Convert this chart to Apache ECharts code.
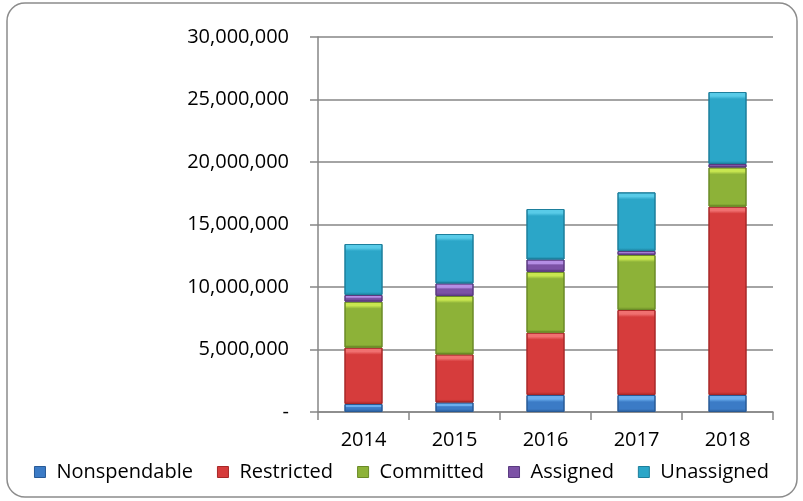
<!DOCTYPE html>
<html>
<head>
<meta charset="utf-8">
<script src="https://cdn.jsdelivr.net/npm/echarts@6/dist/echarts.min.js"></script>
<style>
html,body{margin:0;padding:0;background:#fff;}
#c{width:803px;height:501px;}
</style>
</head>
<body>
<div id="c"></div>
<script>
const years = ['2014', '2015', '2016', '2017', '2018'];
const nonspendable = [640000, 770000, 1360000, 1360000, 1360000];
const restricted = [4510000, 3840000, 4990000, 6800000, 15070000];
const committed = [3680000, 4670000, 4870000, 4400000, 3140000];
const assigned = [530000, 1010000, 980000, 320000, 270000];
const unassigned = [4080000, 3950000, 4040000, 4690000, 5760000];
const yTicks = { min: 0, max: 30000000, interval: 5000000 };

const seriesDefs = [
  { name: 'Nonspendable', data: nonspendable, base: '#3b7bc6', edge: '#285a96', light: '#6aaeee' },
  { name: 'Restricted', data: restricted, base: '#d63c3c', edge: '#a82828', light: '#f07070' },
  { name: 'Committed', data: committed, base: '#8db238', edge: '#6a8a26', light: '#c8e650' },
  { name: 'Assigned', data: assigned, base: '#7c52a6', edge: '#5a3a80', light: '#b48ee4' },
  { name: 'Unassigned', data: unassigned, base: '#2ba6c8', edge: '#1d7f9c', light: '#58cbe8' }
];

const chart = echarts.init(document.getElementById('c'), null, { renderer: 'canvas' });
const font = '"Open Sans", "DejaVu Sans", sans-serif';

function vgrad(d, hpx) {
  const h = Math.max(hpx, 1);
  const a = Math.min(4 / h, 0.35), b = Math.min(7 / h, 0.45), c = Math.max(1 - 3 / h, 0.6);
  return new echarts.graphic.LinearGradient(0, 0, 0, 1, [
    { offset: 0, color: d.light },
    { offset: a, color: d.light },
    { offset: b, color: d.base },
    { offset: c, color: d.base },
    { offset: 1, color: d.edge }
  ]);
}

function buildSeries(pxPerUnit) {
  return seriesDefs.map(d => ({
    name: d.name,
    type: 'bar',
    stack: 'total',
    barWidth: 38,
    data: d.data.map(v => pxPerUnit ? { value: v, itemStyle: { color: vgrad(d, v * pxPerUnit) } } : v),
    itemStyle: { color: d.base, borderColor: d.edge, borderWidth: 1 }
  }));
}

chart.setOption({
  animation: false,
  backgroundColor: '#ffffff',
  graphic: [{
    type: 'rect',
    shape: { x: 7, y: 3, width: 790, height: 494, r: 18 },
    style: { fill: 'none', stroke: '#8c8c8c', lineWidth: 1.5 },
    z: -1
  }],
  grid: { left: 318, right: 30, top: 37, bottom: 89, containLabel: false },
  legend: {
    bottom: 14,
    left: 'center',
    itemWidth: 11,
    itemHeight: 11,
    itemGap: 24,
    icon: 'rect',
    textStyle: { fontFamily: font, fontSize: 20, color: '#000', padding: [0, 0, 0, 6] },
    data: seriesDefs.map(d => ({ name: d.name, itemStyle: { color: d.base, borderColor: d.edge, borderWidth: 1 } }))
  },
  xAxis: {
    type: 'category',
    data: years,
    axisLine: { lineStyle: { color: '#868686', width: 1.5 } },
    axisTick: { show: true, length: 8, lineStyle: { color: '#868686', width: 1.5 } },
    axisLabel: { fontFamily: font, fontSize: 20, color: '#000', margin: 18 }
  },
  yAxis: {
    type: 'value',
    min: yTicks.min,
    max: yTicks.max,
    interval: yTicks.interval,
    axisLine: { show: true, lineStyle: { color: '#868686', width: 1.5 } },
    axisTick: { show: true, length: 8, lineStyle: { color: '#868686', width: 1.5 } },
    splitLine: { lineStyle: { color: '#868686', width: 1.5 } },
    axisLabel: {
      fontFamily: font, fontSize: 20, color: '#000', margin: 29,
      formatter: v => v === 0 ? '-' : v.toLocaleString('en-US')
    }
  },
  series: buildSeries(0)
});

// derive bevel gradient sizes from the library's own scale
const y0 = chart.convertToPixel({ yAxisIndex: 0 }, 0);
const y1 = chart.convertToPixel({ yAxisIndex: 0 }, yTicks.max);
const pxPerUnit = Math.abs(y0 - y1) / yTicks.max;
chart.setOption({ series: buildSeries(pxPerUnit) });
</script>
</body>
</html>
